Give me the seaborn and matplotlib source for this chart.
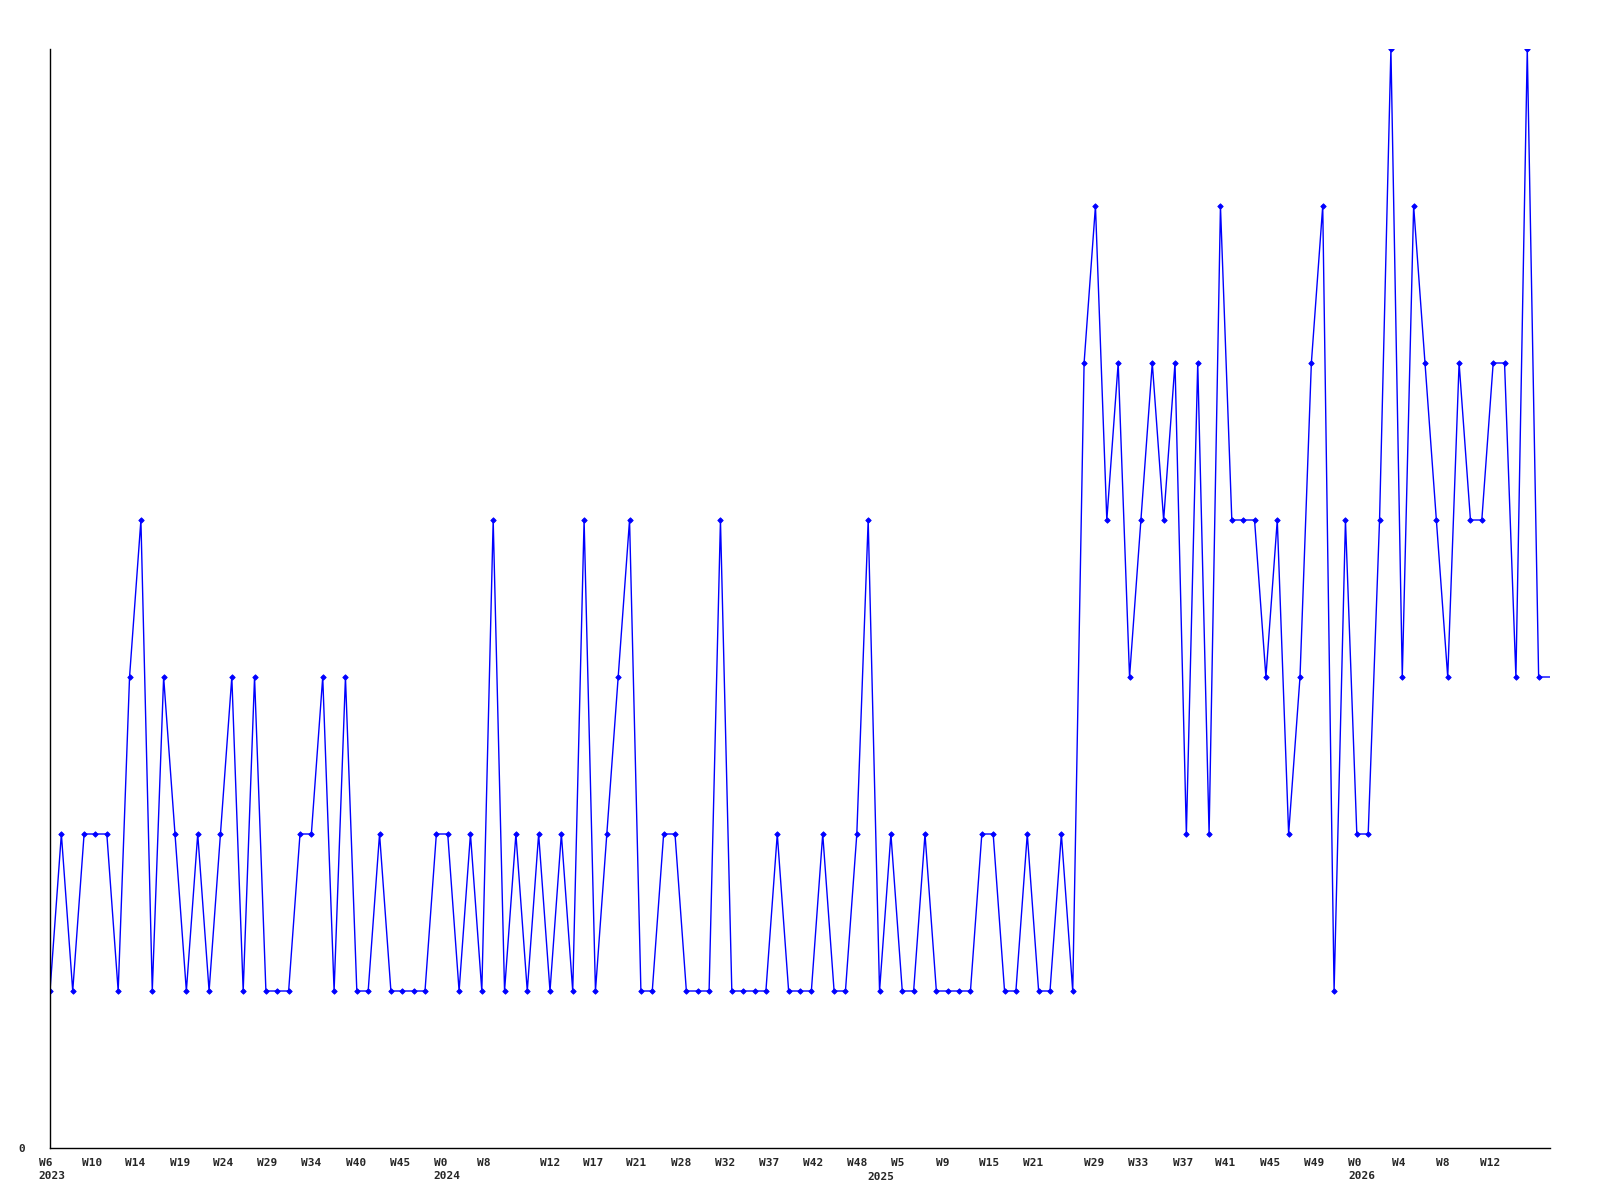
import matplotlib
matplotlib.use("Agg")
import matplotlib.pyplot as plt
import seaborn as sns
import pandas as pd

# ---- data ----
values = [
    1, 2, 1, 2, 2, 2, 1, 3, 4, 1, 3, 2, 1, 2, 1, 2, 3, 1, 3, 1, 1, 1, 2, 2, 3, 1, 3, 1, 1, 2, 1, 1, 1, 1,
    2, 2, 1, 2, 1, 4, 1, 2, 1, 2, 1, 2, 1, 4, 1, 2, 3, 4, 1, 1, 2, 2, 1, 1, 1, 4, 1, 1, 1, 1, 2, 1, 1, 1,
    2, 1, 1, 2, 4, 1, 2, 1, 1, 2, 1, 1, 1, 1, 2, 2, 1, 1, 2, 1, 1, 2, 1,
    5, 6, 4, 5, 3, 4, 5, 4, 5, 2, 5, 2, 6, 4, 4, 4, 3, 4, 2, 3, 5, 6, 1, 4,
    2, 2, 4, 7, 3, 6, 5, 4, 3, 5, 4, 4, 5, 5, 3, 7, 3,
    3,  # current (partial) period, drawn without a marker
]
week_labels = ["W6", "W10", "W14", "W19", "W24", "W29", "W34", "W40", "W45", "W0", "W8",
               "W12", "W17", "W21", "W28", "W32", "W37", "W42", "W48", "W5", "W9",
               "W15", "W21", "W29", "W33", "W37", "W41", "W45", "W49", "W0", "W4", "W8", "W12"]
# left edge of each week label, in point-index units
week_label_left = [-0.99, 2.79, 6.64, 10.54, 14.38, 18.26, 22.13, 26.06, 29.91, 33.78, 37.62,
                   43.11, 46.92, 50.74, 54.64, 58.51, 62.38, 66.25, 70.13, 74.01, 77.94,
                   81.78, 85.65, 91.05, 94.89, 98.80, 102.58, 106.50, 110.35, 114.25, 118.12, 121.97, 125.87]
year_labels = {0: "2023", 9: "2024", 29: "2026"}   # year printed under these week labels
extra_year_label = "2025"
extra_year_left = 71.98

df = pd.DataFrame({"idx": range(len(values)), "value": values})

sns.set_style("white")
plt.rcParams["font.family"] = ["DejaVu Sans Mono", "DejaVu Sans"]

FS = 8
fig = plt.figure(figsize=(16, 12), dpi=100)
ax = fig.add_axes([50 / 1600, 1 - 1148 / 1200, 1500 / 1600, (1148 - 49) / 1200])

sns.lineplot(data=df, x="idx", y="value", ax=ax, color="#0000ff", linewidth=1.0,
             marker="D", markersize=2.8, markeredgewidth=0.6,
             markevery=list(range(len(values) - 1)), markeredgecolor="#0000ff")

# monospace character advance expressed in index units (so labels can be right-anchored
# while appearing left-aligned at their left edge)
step_px = 1500 / (len(values) - 1)
char_idx = 0.602 * FS * 100 / 72 / step_px

labels, pos = [], []
for i, w in enumerate(week_labels):
    lines = [w] + ([year_labels[i]] if i in year_labels else [])
    labels.append("\n".join(lines))
    pos.append(week_label_left[i] + max(len(s) for s in lines) * char_idx)
ax.set_xticks(pos, labels)
ax.set_xticks([extra_year_left + len(extra_year_label) * char_idx], [extra_year_label], minor=True)
ax.set_xlim(0, len(values) - 1)
ax.set_ylim(0, 7)

for lab in ax.get_xticklabels() + ax.get_xticklabels(minor=True):
    lab.set_ha("right")
    lab.set_multialignment("left")
    lab.set_linespacing(1.45)
    lab.set_fontweight("bold")
    lab.set_fontsize(FS)
ax.tick_params(axis="x", which="major", length=0, pad=7)
ax.tick_params(axis="x", which="minor", length=0, pad=17.5)

ax.set_yticks([0], ["0"])
for lab in ax.get_yticklabels():
    lab.set_fontweight("bold")
    lab.set_fontsize(FS)
ax.tick_params(axis="y", length=0, pad=18)

ax.set_xlabel("")
ax.set_ylabel("")
for s in ["top", "right"]:
    ax.spines[s].set_visible(False)
for s in ["left", "bottom"]:
    ax.spines[s].set_color("black")
    ax.spines[s].set_linewidth(1.0)
ax.grid(False)

fig.savefig("out.png", dpi=100, facecolor="white")
